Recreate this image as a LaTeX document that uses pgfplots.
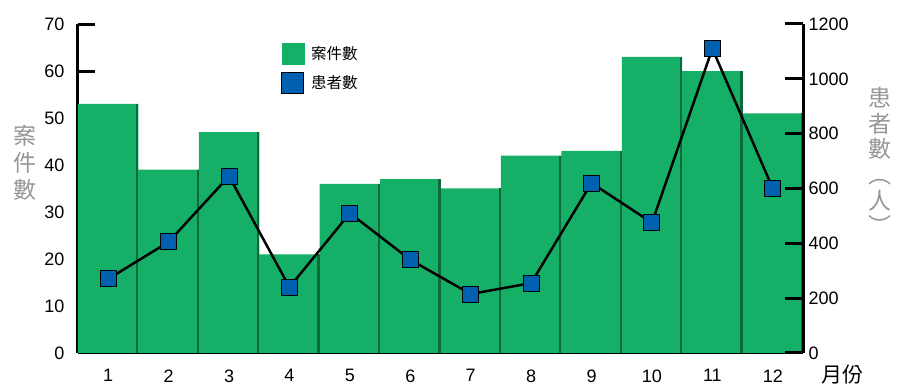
\documentclass[border=0pt]{standalone}
\usepackage{pgfplots}
\usepackage{pgfplotstable}
\pgfplotsset{compat=1.18}
\usepackage{fontspec}
\setmainfont{Liberation Sans}
\newfontfamily\cjk{Noto Sans CJK TC}
\definecolor{barg}{RGB}{22,175,104}
\definecolor{edgeg}{RGB}{12,105,58}
\definecolor{markb}{RGB}{0,96,176}
\definecolor{lblgray}{RGB}{150,150,150}

\pgfplotstableread{
m cases patients
1 53 270
2 39 405
3 47 645
4 21 240
5 36 510
6 37 340
7 35 215
8 42 255
9 43 620
10 63 475
11 60 1110
12 51 600
}\data

\begin{document}
\begin{tikzpicture}
\useasboundingbox (-78pt,-34pt) rectangle (819pt,353pt);
\begin{axis}[
  at={(0,0)}, anchor=south west, scale only axis,
  width=725pt, height=329pt,
  xmin=0.5, xmax=12.5, ymin=0, ymax=70,
  axis y line*=left, axis x line*=bottom,
  axis line style={line width=3pt, -},
  every outer x axis line/.append style={-},
  every outer y axis line/.append style={-},
  xtick={1,...,12}, x tick style={draw=none},
  ytick={0,10,...,70},
  tick align=inside, major tick length=17pt,
  y tick style={line width=3pt, black},
  tick label style={font=\fontsize{18}{20}\selectfont},
  /pgf/number format/assume math mode=true,
  yticklabel style={xshift=-10pt},
  xticklabel style={yshift=-13pt},
  clip=false,
]
\addplot[ybar, bar width=1, fill=barg, draw=none] table[x=m, y=cases] {\data};
\addplot[ycomb, no marks, edgeg, line width=2.2pt, xshift=-1.1pt] table[x expr=\thisrow{m}+0.5, y=cases] {\data};
\end{axis}
\begin{axis}[
  at={(0,0)}, anchor=south west, scale only axis,
  width=725pt, height=329pt,
  xmin=0.5, xmax=12.5, ymin=0, ymax=1200,
  axis y line*=right, axis x line=none,
  axis line style={line width=3pt, -},
  every outer y axis line/.append style={-},
  ytick={0,200,...,1200},
  tick align=inside, major tick length=18pt,
  y tick style={line width=3pt, black},
  tick label style={font=\fontsize{18}{20}\selectfont},
  /pgf/number format/assume math mode=true,
  /pgf/number format/set thousands separator={},
  yticklabel style={xshift=2pt},
  clip=false,
  legend style={at={(203pt,310pt)}, anchor=north west, draw=none, fill=none,
    inner sep=0pt, row sep=7pt, font=\cjk\fontsize{15.5}{18}\selectfont,
    nodes={inner sep=2pt}},
  legend cell align=left,
]
\addlegendimage{legend image code/.code={\fill[barg] (0pt,-10.5pt) rectangle (22pt,10.5pt);}}
\addlegendentry{\hspace{5pt}案件數}
\addlegendimage{legend image code/.code={\draw[fill=markb, draw=black, line width=1pt] (0pt,-10.5pt) rectangle (22pt,10.5pt);}}
\addlegendentry{\hspace{5pt}患者數}
\addplot[black, line width=2.5pt, mark=square*, mark size=8pt,
  mark options={fill=markb, draw=black, line width=1pt}, forget plot]
  table[x=m, y=patients] {\data};
\end{axis}
\node[text=lblgray, font=\cjk\fontsize{23}{27}\selectfont, align=center] at (-53pt,190pt) {案\\件\\數};
\node[text=lblgray, font=\cjk\fontsize{23}{25.6}\selectfont, align=center] at (802pt,192pt) {患\\者\\數\\︵\\人\\︶};
\node[font=\cjk\fontsize{21}{24}\selectfont] at (764pt,-22pt) {月份};
\end{tikzpicture}
\end{document}
